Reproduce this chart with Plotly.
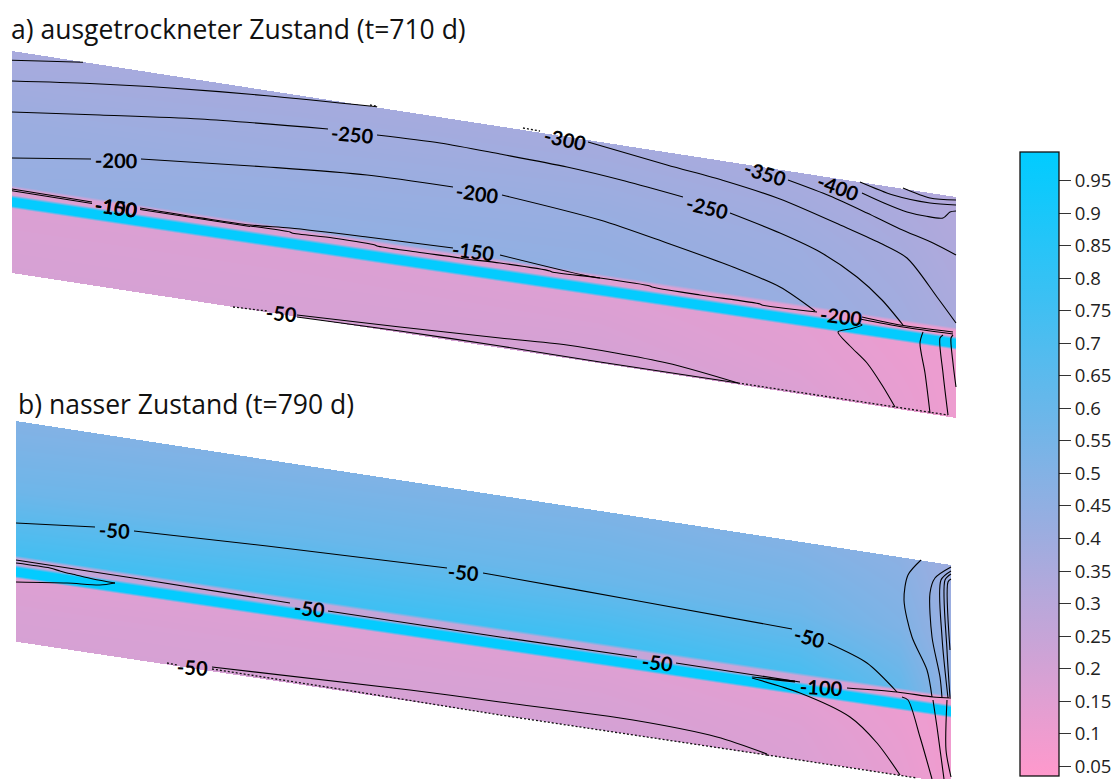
import numpy as np
import plotly.graph_objects as go

W, H = 1119, 779

# ---------- colour bar ----------
COLOR_LOW, COLOR_HIGH = "#ff99cc", "#00ccff"
VALUE_MIN, VALUE_MAX = 0.035, 0.994
TICK_VALUES = [0.05, 0.1, 0.15, 0.2, 0.25, 0.3, 0.35, 0.4, 0.45, 0.5,
               0.55, 0.6, 0.65, 0.7, 0.75, 0.8, 0.85, 0.9, 0.95]
TICK_LABELS = ["0.05", "0.1", "0.15", "0.2", "0.25", "0.3", "0.35", "0.4", "0.45", "0.5",
               "0.55", "0.6", "0.65", "0.7", "0.75", "0.8", "0.85", "0.9", "0.95"]

# ---------- saturation fields ----------
# each row = position along slope; each column = level across the layers
A_X = [12, 956]
A_TOP = [51, 197]
A_BOTTOM = [273, 418]
B_X = [16, 951]
B_TOP = [421, 565]
B_BOTTOM = [641.7, 783]

# level offsets below the top edge, left end / right end
LEVELS_LEFT = [0, 70, 134.5, 137.5, 144, 147, 155, 157.5, 190, 224]
LEVELS_RIGHT = [0, 70, 130.5, 133.5, 139.5, 142.5, 150.5, 153, 186, 224]

FIELD_COLUMNS_A = [12, 300, 600, 800, 900, 956]
FIELD_A = [
    [0.36, 0.41, 0.43, 0.17, 0.17, 0.98, 0.98, 0.17, 0.18, 0.19],
    [0.37, 0.41, 0.45, 0.17, 0.17, 0.98, 0.98, 0.17, 0.18, 0.19],
    [0.37, 0.42, 0.45, 0.16, 0.16, 0.98, 0.98, 0.16, 0.18, 0.20],
    [0.36, 0.40, 0.42, 0.14, 0.14, 0.98, 0.98, 0.14, 0.15, 0.17],
    [0.34, 0.37, 0.39, 0.11, 0.11, 0.98, 0.98, 0.11, 0.12, 0.13],
    [0.32, 0.34, 0.36, 0.10, 0.10, 0.98, 0.98, 0.10, 0.10, 0.10],
]
FIELD_COLUMNS_B = [16, 300, 600, 800, 900, 951]
FIELD_B = [
    [0.50, 0.58, 0.74, 0.26, 0.26, 0.98, 0.98, 0.16, 0.18, 0.19],
    [0.51, 0.60, 0.76, 0.26, 0.26, 0.98, 0.98, 0.16, 0.18, 0.19],
    [0.52, 0.60, 0.76, 0.26, 0.26, 0.98, 0.98, 0.16, 0.18, 0.20],
    [0.50, 0.58, 0.72, 0.22, 0.22, 0.98, 0.98, 0.14, 0.16, 0.17],
    [0.47, 0.52, 0.62, 0.13, 0.13, 0.98, 0.98, 0.11, 0.12, 0.13],
    [0.40, 0.42, 0.44, 0.09, 0.09, 0.98, 0.98, 0.09, 0.09, 0.09],
]

# ---------- contour lines (x list, y list) ----------
A_SOLID = [
    ([12, 40, 83], [60.3, 61, 62.3]),
    ([12, 90, 167, 267, 377], [81, 83.5, 87.7, 95.7, 106.7]),
    ([12, 100, 200, 328], [112, 115, 119, 129]),
    ([377, 440, 500, 567, 625, 683], [135, 143, 154, 167, 181, 197]),
    ([730, 780, 820, 857, 882, 903], [213, 233, 252, 277, 300, 325]),
    ([588, 667, 725, 780, 847, 880, 907, 937, 956], [142, 165, 181, 199, 228, 243, 258, 297, 323]),
    ([788, 830, 867, 900, 933, 956], [180, 196, 213, 229, 243, 255]),
    ([862, 884, 907, 925, 943, 950, 956], [193, 203, 212, 216, 218, 212, 211]),
    ([860, 893, 930, 956], [182, 195, 203, 205]),
    ([903, 930, 956], [188, 198, 200]),
    ([12, 91], [158, 159]),
    ([141, 267, 367, 453], [159, 167, 175, 187]),
    ([502, 600, 667, 733, 780, 815], [195, 220, 243, 267, 287, 311]),
    ([12, 92], [189, 202]),
    ([12, 92], [190.7, 203.5]),
    ([140, 250, 290, 367, 453], [208, 225, 228, 237, 248]),
    ([140, 250], [209.5, 226.5]),
    ([500, 583, 600], [255, 275, 278]),
    ([250, 290, 292, 333, 375, 377, 417, 460, 462, 500, 550, 552, 600, 650, 652, 700, 760, 762, 817],
     [226, 232, 233, 238, 245, 246, 252, 258, 258.5, 263, 271, 272, 278, 286, 287, 295, 304, 305, 312]),
    ([862, 900, 953], [317, 325, 332]),
    ([860, 903, 953], [319, 327, 334]),
    ([858, 862, 850, 838, 850, 867, 882, 895], [323, 325, 329, 332, 346, 363, 385, 407]),
    ([923, 920, 925, 930], [332, 343, 373, 413]),
    ([943, 940, 943, 948], [335, 338, 373, 415]),
    ([953, 951, 953, 956], [335, 338, 363, 387]),
    ([297, 400, 500, 567, 667, 738], [315, 327, 338, 345, 363, 383]),
    ([297, 400, 500, 600, 738], [317, 331, 346, 362, 383]),
]
A_DOTTED = [
    ([738, 895, 948], [383, 407, 415]),
    ([233, 267], [307, 311]),
    ([370, 378], [105, 106.5]),
    ([523, 540], [128, 131]),
]
B_SOLID = [
    ([16, 95], [523, 527]),
    ([134, 267, 447], [531, 546, 568]),
    ([483, 500, 633, 792], [573, 576, 600, 629]),
    ([828, 867, 897], [643, 663, 692]),
    ([16, 133, 290], [560, 578, 603]),
    ([328, 500, 637], [611, 637, 657]),
    ([676, 800], [663, 682]),
    ([847, 897, 933, 951], [688, 692, 697, 698]),
    ([16, 50, 60, 67, 72, 93, 115], [563, 568, 571, 573, 574, 579, 583]),
    ([16, 67, 100, 115], [582, 583, 585, 583]),
    ([795, 752, 795], [681, 677, 682]),
    ([752, 800, 850, 877, 900], [678, 693, 717, 743, 775]),
    ([212, 410, 500, 633, 717, 767], [667, 690, 702, 720, 737, 754]),
    ([921, 908, 904, 912, 927, 932], [560, 575, 600, 637, 670, 697]),
    ([951, 935, 930, 932, 940, 942], [567, 578, 593, 637, 677, 698]),
    ([951, 941, 942, 948], [571, 580, 637, 698]),
    ([951, 945, 947, 950], [574, 580, 650, 697]),
    ([951, 948, 950], [579, 582, 650]),
    ([902, 908, 920, 932], [697, 700, 737, 779]),
    ([933, 937, 944], [700, 727, 779]),
    ([947, 946, 951], [700, 750, 777]),
]
B_DOTTED = [
    ([212, 333, 500, 767], [669, 688, 715, 755]),
    ([767, 900, 917], [755, 775, 778]),
    ([167, 177], [663, 665]),
]

# ---------- contour labels: text, x, y, rotation ----------
LABEL_TEXT = ["-200", "-250", "-300", "-350", "-400", "-250", "-200", "-150", "-200",
              "-150", "-100", "-50",
              "-50", "-50", "-50", "-50", "-50", "-100", "-50"]
LABEL_X = [116, 352, 565, 765, 838, 707, 477, 473, 841, 116, 116, 281,
           114, 463, 309, 809, 657, 821, 192]
LABEL_Y = [160, 134, 139, 173, 187, 207, 193, 251, 316, 207, 207, 313,
           530, 572, 608, 637, 662, 687, 667]
LABEL_ANGLE = [1, 5, 12, 17, 20, 14, 8, 7, 7, 8, 8, 5,
               3, 5, 6, 15, 6, 3, 3]

TITLES = ["a) ausgetrockneter Zustand (t=710 d)", "b) nasser Zustand (t=790 d)"]
TITLE_X = [9, 16]
TITLE_Y = [29, 404]


def field_image(x_ends, top, bottom, columns, field):
    """Resample the read field onto the picture grid for the rectilinear heatmap."""
    xs = np.arange(x_ends[0] + 0.5, x_ends[1], 1.0)
    ys = np.arange(min(top) - 1 + 0.5, min(max(bottom) + 1, H), 1.0)
    arr = np.array(field, dtype=float)
    z = np.full((len(ys), len(xs)), np.nan)
    for i, x in enumerate(xs):
        t = np.interp(x, x_ends, top)
        b = np.interp(x, x_ends, bottom)
        f = (x - x_ends[0]) / (x_ends[1] - x_ends[0])
        levels = (1 - f) * np.array(LEVELS_LEFT) + f * np.array(LEVELS_RIGHT)
        vals = [np.interp(x, columns, arr[:, k]) for k in range(arr.shape[1])]
        col = np.interp(ys - t, levels, vals)
        col[(ys < t) | (ys > b)] = np.nan
        z[:, i] = col
    return xs, ys, z


fig = go.Figure()
scale = [[0, COLOR_LOW], [1, COLOR_HIGH]]

xa, ya, za = field_image(A_X, A_TOP, A_BOTTOM, FIELD_COLUMNS_A, FIELD_A)
fig.add_trace(go.Heatmap(x=xa, y=ya, z=np.round(za, 3), zmin=VALUE_MIN, zmax=VALUE_MAX,
                         colorscale=scale, showscale=False, hoverinfo="skip"))
xb, yb, zb = field_image(B_X, B_TOP, B_BOTTOM, FIELD_COLUMNS_B, FIELD_B)
fig.add_trace(go.Heatmap(
    x=xb, y=yb, z=np.round(zb, 3), zmin=VALUE_MIN, zmax=VALUE_MAX, colorscale=scale,
    hoverinfo="skip",
    colorbar=dict(
        thicknessmode="pixels", thickness=39, lenmode="pixels", len=624,
        x=1020 / W, xanchor="left", xpad=0, y=1 - 152 / H, yanchor="top", ypad=0,
        outlinecolor="#111111", outlinewidth=1.3, borderwidth=0,
        tickmode="array", tickvals=TICK_VALUES, ticktext=TICK_LABELS,
        ticks="outside", ticklen=12, tickwidth=1, tickcolor="#333333",
        tickfont=dict(family="Open Sans", size=18.5, color="#222222"),
    ),
))

for x, y in A_SOLID + B_SOLID:
    fig.add_trace(go.Scatter(x=x, y=y, mode="lines", hoverinfo="skip", showlegend=False,
                             line=dict(color="#000000", width=1.1, shape="spline", smoothing=0.8)))
for x, y in A_DOTTED + B_DOTTED:
    fig.add_trace(go.Scatter(x=x, y=y, mode="lines", hoverinfo="skip", showlegend=False,
                             line=dict(color="#111111", width=1.3, dash="2px,2px")))

for t, x, y, a in zip(LABEL_TEXT, LABEL_X, LABEL_Y, LABEL_ANGLE):
    fig.add_annotation(x=x, y=y, text=t, textangle=a, showarrow=False,
                       xanchor="center", yanchor="middle",
                       font=dict(family="Lato", size=20, color="#000000", weight=700))
for t, x, y in zip(TITLES, TITLE_X, TITLE_Y):
    fig.add_annotation(x=x, y=y, text=t, showarrow=False, xanchor="left", yanchor="middle",
                       font=dict(family="Open Sans", size=26.5, color="#111111"))

fig.update_xaxes(range=[0, W], visible=False, fixedrange=True)
fig.update_yaxes(range=[H, 0], visible=False, fixedrange=True)
fig.update_layout(width=W, height=H, margin=dict(l=0, r=0, t=0, b=0),
                  paper_bgcolor="white", plot_bgcolor="white", showlegend=False)
fig.write_html("out.html", config={"displayModeBar": False},
               post_script="document.body.style.margin='0';document.documentElement.style.overflow='hidden';")
